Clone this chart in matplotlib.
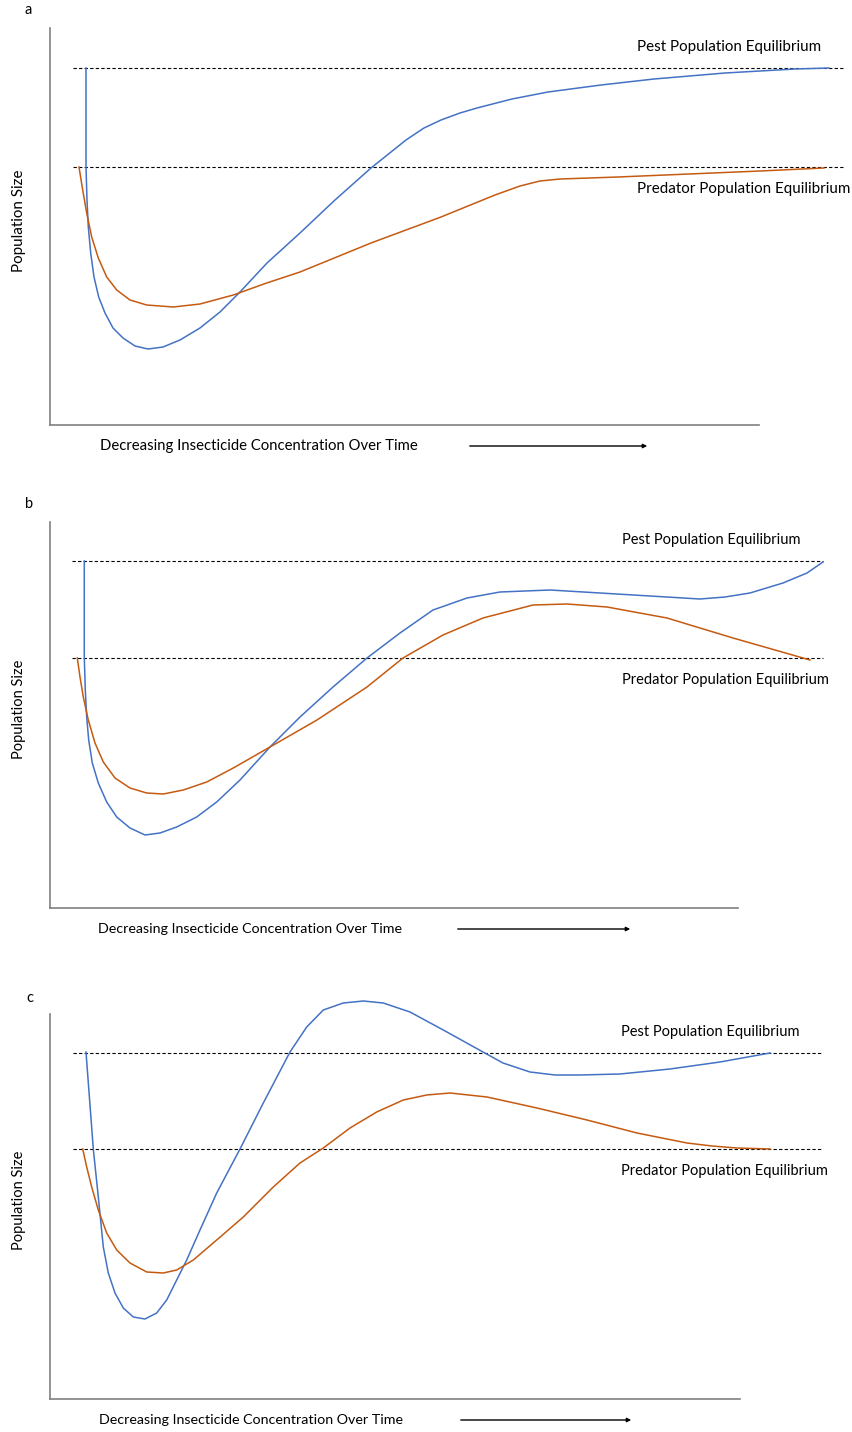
import matplotlib
matplotlib.use("Agg")
import matplotlib.pyplot as plt
from matplotlib.patches import FancyArrowPatch

plt.rcParams['font.family'] = ['Lato', 'DejaVu Sans']

# values (time since spraying, population size; arbitrary units)
a_pest_t = [36, 36, 37, 38.3, 40.7, 44, 48.7, 55, 63, 73, 85, 98, 113, 130, 150, 170, 190, 217, 250,
            285, 321, 356, 374, 391, 410, 427, 462, 498, 551, 604, 675, 745, 779]
a_pest_n = [357, 258, 225, 198, 172, 148, 128, 112, 97, 87, 79, 76, 78, 85, 97, 113, 133, 162, 192,
            225, 257, 285, 297, 305, 312, 317, 326, 333, 340, 346, 352, 356, 357]
a_pred_t = [29, 32.7, 36.7, 41.7, 48.3, 56.7, 66.7, 80, 96.7, 123.3, 150, 183.3, 216.7, 250, 321, 391,
            445, 470, 490, 510, 568, 639, 710, 774]
a_pred_n = [258, 235, 212, 188, 167, 148, 135, 125, 120, 118, 121, 130, 142, 153, 182, 208,
            230, 239, 244, 246, 248, 251, 254, 257]

b_pest_t = [34.3, 34.3, 35.3, 36.7, 38.7, 42.3, 48.3, 56.7, 66.7, 80, 95, 110, 126.7, 146.7, 166.7, 190,
            220, 250, 283, 317, 350, 383, 417, 450, 500, 550, 600, 650, 675, 700, 733, 757, 773]
b_pest_n = [347, 250, 218, 191, 168, 145, 125, 106, 91, 80, 73, 75, 81, 91, 106, 128,
            161, 191, 221, 250, 275, 298, 310, 316, 318, 315, 312, 309, 311, 315, 325, 335, 346]
b_pred_t = [27.3, 30, 33.3, 38.3, 45, 53.3, 65, 80, 96.7, 113.3, 133.3, 156.7, 183.3, 220, 267, 317,
            353, 393, 433, 483, 517, 557, 617, 683, 760]
b_pred_n = [250, 231, 211, 188, 165, 146, 130, 120, 115, 114, 118, 126, 140, 161, 188, 221,
            250, 273, 290, 303, 304, 301, 290, 270, 248]

c_pest_t = [36, 43.3, 48.3, 53.3, 58.3, 65, 73.3, 83.3, 95, 106.7, 116.7, 126.7, 136.7, 150, 166.7, 190,
            213.3, 240, 256.7, 273.3, 293.3, 313.3, 333.3, 360, 393.3, 433, 453, 480, 505, 530, 570,
            620, 670, 720]
c_pest_n = [347, 250, 202, 152, 126, 106, 91, 82, 80, 86, 99, 119, 139, 169, 206, 250,
            296, 347, 372, 389, 396, 398, 396, 387, 369, 347, 336, 327, 324, 324, 325,
            330, 337, 346]
c_pred_t = [32.7, 36.7, 41.7, 48.3, 56.7, 66.7, 80, 96.7, 113.3, 126.7, 143.3, 166.7, 193.3, 223.3, 250,
            273.3, 300, 326.7, 353.3, 376.7, 400, 437, 487, 537, 587, 637, 662, 687, 720]
c_pred_n = [250, 232, 212, 189, 166, 149, 136, 127, 126, 129, 139, 159, 182, 212, 236,
            251, 271, 287, 299, 304, 306, 302, 291, 279, 266, 256, 253, 251, 250]

pest_eq = [357, 347, 346]
pred_eq = [258, 250, 250]

W, H = 852, 1432
fig = plt.figure(figsize=(W / 100, H / 100), dpi=100)


def fx(px):
    return px / W


def fy(py):
    return 1 - py / H


# pixel layout of each panel
panels = [
    dict(tag='a', tag_xy=(28, 10), top=28, bottom=425, end=759, eq_x0=23, eq_x1=795, fs=10.9,
         txt_x=637, pest_y=47, pred_y=189, xl_x=100, xl_y=446, arr=(467, 650),
         pest=(a_pest_t, a_pest_n), pred=(a_pred_t, a_pred_n)),
    dict(tag='b', tag_xy=(29, 504), top=522, bottom=908, end=738, eq_x0=22, eq_x1=773, fs=10.5,
         txt_x=622, pest_y=540, pred_y=680, xl_x=98, xl_y=929, arr=(455, 633),
         pest=(b_pest_t, b_pest_n), pred=(b_pred_t, b_pred_n)),
    dict(tag='c', tag_xy=(30, 998), top=1014, bottom=1399, end=740, eq_x0=23, eq_x1=772, fs=10.5,
         txt_x=621, pest_y=1032, pred_y=1171, xl_x=99, xl_y=1420, arr=(458, 634),
         pest=(c_pest_t, c_pest_n), pred=(c_pred_t, c_pred_n)),
]

left = 50
for i, p in enumerate(panels):
    h = p['bottom'] - p['top']
    ax = fig.add_axes([fx(left), fy(p['bottom']), 800 / W, h / H])
    ax.set_xlim(0, 800)
    ax.set_ylim(0, h)
    ax.set_xticks([])
    ax.set_yticks([])
    for s in ['top', 'right']:
        ax.spines[s].set_visible(False)
    for s in ['left', 'bottom']:
        ax.spines[s].set_color('#808080')
        ax.spines[s].set_linewidth(1.2)
    ax.spines['bottom'].set_bounds(0, p['end'] - left)
    ax.patch.set_alpha(0)

    ax.hlines([pest_eq[i], pred_eq[i]], p['eq_x0'], p['eq_x1'], colors='black',
              linestyles=(0, (3, 2)), linewidth=0.8)
    ax.plot(*p['pest'], color='#4472C4', lw=1.1, solid_joinstyle='round', clip_on=False)
    ax.plot(*p['pred'], color='#C55A11', lw=1.1, solid_joinstyle='round', clip_on=False)

    fs = p['fs']
    fig.text(fx(p['tag_xy'][0]), fy(p['tag_xy'][1]), p['tag'], fontsize=10.5, ha='center', va='center')
    fig.text(fx(p['txt_x']), fy(p['pest_y']), 'Pest Population Equilibrium', fontsize=fs, va='center')
    fig.text(fx(p['txt_x']), fy(p['pred_y']), 'Predator Population Equilibrium', fontsize=fs, va='center')
    fig.text(fx(p['xl_x']), fy(p['xl_y']), 'Decreasing Insecticide Concentration Over Time',
             fontsize=fs * 0.98, va='center')
    fig.text(fx(19), fy((p['top'] + p['bottom']) / 2 - 6), 'Population Size', fontsize=fs,
             rotation=90, ha='center', va='center')
    fig.add_artist(FancyArrowPatch(
        (fx(p['arr'][0]), fy(p['xl_y'])), (fx(p['arr'][1]), fy(p['xl_y'])),
        transform=fig.transFigure, arrowstyle='-|>', mutation_scale=6, lw=1, color='black'))

fig.savefig('out.png', dpi=100)
